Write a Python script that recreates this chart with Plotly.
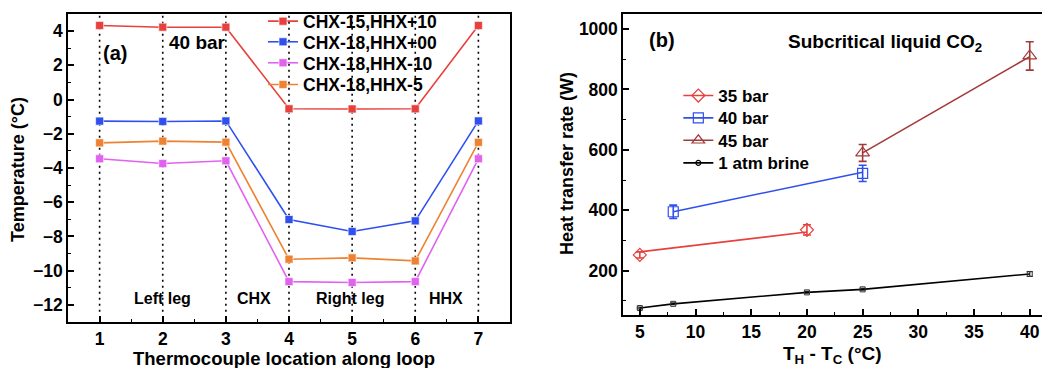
import plotly.graph_objects as go

# ---------- Panel (a) data ----------
locations = [1, 2, 3, 4, 5, 6, 7]
series_a_names = ["CHX-15,HHX+10", "CHX-18,HHX+00", "CHX-18,HHX-10", "CHX-18,HHX-5"]
chx15_hhx10 = [4.33, 4.23, 4.23, -0.54, -0.55, -0.54, 4.33]
chx18_hhx00 = [-1.26, -1.28, -1.25, -7.01, -7.71, -7.09, -1.25]
chx18_hhx_10 = [-3.46, -3.74, -3.58, -10.64, -10.69, -10.64, -3.46]
chx18_hhx_5 = [-2.53, -2.43, -2.49, -9.33, -9.25, -9.43, -2.50]
region_labels = ["Left leg", "CHX", "Right leg", "HHX"]
region_pos = [2.0, 3.45, 4.97, 6.48]

# ---------- Panel (b) data ----------
dT_35 = [5, 20]
q_35 = [252, 335]
err_35 = [10, 17]
fit_35 = [262, 328]

dT_40 = [8, 25]
q_40 = [395, 522]
err_40 = [22, 27]
fit_40 = [395, 526]

dT_45 = [25, 40]
q_45 = [590, 911]
err_45 = [28, 47]
fit_45 = [590, 909]

dT_brine = [5, 8, 20, 25, 40]
q_brine = [76, 90, 128, 138, 189]
err_brine = [3, 3, 3, 3, 8]

FONT = "Liberation Sans, Arial, sans-serif"
c_red = "#e8403c"
c_blue = "#2f50ee"
c_mag = "#e262f0"
c_org = "#ee8232"
c_dred = "#a33a3a"

fig = go.Figure()

# dotted guide lines at each thermocouple location
for xl in locations:
    fig.add_trace(go.Scatter(x=[xl, xl], y=[-12.4, 5], mode="lines",
                             line=dict(color="black", width=1.6, dash="2px,4px"),
                             showlegend=False, hoverinfo="skip", xaxis="x", yaxis="y"))

left_leg_y = [0.9763, 0.9094, 0.8412, 0.7708]
for i, (name, vals, col) in enumerate(zip(series_a_names,
                                          [chx15_hhx10, chx18_hhx00, chx18_hhx_10, chx18_hhx_5],
                                          [c_red, c_blue, c_mag, c_org])):
    fig.add_trace(go.Scatter(x=locations, y=vals, name=name, mode="lines+markers",
                             line=dict(color=col, width=1.6),
                             marker=dict(symbol="square", size=8, color=col,
                                         line=dict(color="rgba(255,255,255,0.6)", width=1)),
                             xaxis="x", yaxis="y", legend="legend" if i == 0 else f"legend{i+1}"))

# Panel (b): fit lines
for xs, fit, col in [(dT_35, fit_35, c_red), (dT_40, fit_40, c_blue), (dT_45, fit_45, c_dred)]:
    fig.add_trace(go.Scatter(x=xs, y=fit, mode="lines", line=dict(color=col, width=1.6),
                             showlegend=False, xaxis="x2", yaxis="y2"))

# Panel (b): data markers with error bars
for xs, ys, es, col, sym, sz in [(dT_35, q_35, err_35, c_red, "diamond-open", 10),
                                 (dT_40, q_40, err_40, c_blue, "square-open", 10),
                                 (dT_45, q_45, err_45, c_dred, "triangle-up-open", 12)]:
    fig.add_trace(go.Scatter(x=xs, y=ys, mode="markers",
                             marker=dict(symbol=sym, size=sz, color=col, line=dict(width=1.2)),
                             error_y=dict(type="data", array=es, color=col, thickness=1.6, width=4),
                             showlegend=False, xaxis="x2", yaxis="y2"))

fig.add_trace(go.Scatter(x=dT_brine, y=q_brine, mode="lines+markers",
                         line=dict(color="black", width=1.6),
                         marker=dict(symbol="square-open", size=5, color="#333", line=dict(width=1)),
                         error_y=dict(type="data", array=err_brine, color="#333", thickness=1.2, width=3),
                         showlegend=False, xaxis="x2", yaxis="y2"))

# legend-only entries for panel (b)
right_leg_y = [0.7338, 0.6614, 0.5886, 0.5153]
for i, (name, col, sym, sz) in enumerate([("35 bar", c_red, "diamond-open", 10),
                                          ("40 bar", c_blue, "square-open", 10),
                                          ("45 bar", c_dred, "triangle-up-open", 11),
                                          ("1 atm brine", "black", "circle-open", 5)]):
    fig.add_trace(go.Scatter(x=[None], y=[None], name=name, mode="lines+markers",
                             line=dict(color=col, width=1.6),
                             marker=dict(symbol=sym, size=sz, color=col, line=dict(width=1.2)),
                             xaxis="x2", yaxis="y2", legend=f"legend{i+5}"))

axis_common = dict(showline=True, linecolor="black", linewidth=1.6, mirror=True,
                   ticks="inside", ticklen=6, tickwidth=1.5, tickcolor="black",
                   showgrid=False, zeroline=False, automargin=False,
                   tickfont=dict(family=FONT, size=17.5, color="black", weight="bold"))

fig.update_layout(
    width=1042, height=368,
    margin=dict(l=0, r=0, t=14, b=46),
    paper_bgcolor="white", plot_bgcolor="white",
    font=dict(family=FONT, color="black", weight="bold"),
    xaxis=dict(domain=[0.0653, 0.4894], range=[0.5, 7.5], tickvals=locations,
               minor=dict(ticks="inside", ticklen=3, tickwidth=1.2, tickcolor="black", dtick=0.5),
               anchor="y", **axis_common),
    yaxis=dict(domain=[0, 1], range=[-13, 5], dtick=2, tick0=0,
               minor=dict(ticks="inside", ticklen=3, tickwidth=1.2, tickcolor="black", dtick=1),
               anchor="x", **axis_common),
    xaxis2=dict(domain=[0.598, 1.0], range=[3.5, 41.1], dtick=5, tick0=0,
                minor=dict(ticks="inside", ticklen=3, tickwidth=1.2, tickcolor="black", dtick=2.5),
                anchor="y2", **axis_common),
    yaxis2=dict(domain=[0.0227, 1], range=[53, 1050], tickvals=[200, 400, 600, 800, 1000],
                minor=dict(ticks="inside", ticklen=3, tickwidth=1.2, tickcolor="black",
                           tickvals=[100, 300, 500, 700, 900]),
                anchor="x2", **{**axis_common, "mirror": False}),
)

leg_font = dict(family=FONT, size=17.5, color="black", weight="bold")
for i, yy in enumerate(left_leg_y):
    key = "legend" if i == 0 else f"legend{i+1}"
    fig.update_layout({key: dict(x=0.2524, y=yy, xanchor="left", yanchor="middle",
                                 bgcolor="rgba(0,0,0,0)", font=leg_font, itemwidth=30)})
for i, yy in enumerate(right_leg_y):
    fig.update_layout({f"legend{i+5}": dict(x=0.651, y=yy, xanchor="left", yanchor="middle",
                                            bgcolor="rgba(0,0,0,0)",
                                            font=dict(leg_font, size=17), itemwidth=30)})

# axis titles (positioned as annotations in paper coordinates)
title_font = dict(family=FONT, size=18, color="black", weight="bold")
common_anchor = dict(xref="paper", yref="paper", xanchor="center", yanchor="middle", showarrow=False)
fig.add_annotation(x=284 / 1042, y=(322 - 358) / 308, text="Thermocouple location along loop",
                   font=dict(title_font, size=18.5), **common_anchor)
fig.add_annotation(x=18 / 1042, y=(322 - 170) / 308, text="Temperature (°C)", textangle=-90,
                   font=title_font, **common_anchor)
fig.add_annotation(x=832 / 1042, y=(322 - 355) / 308, text="T<sub>H</sub> - T<sub>C</sub> (°C)",
                   font=dict(title_font, size=19), **common_anchor)
fig.add_annotation(x=567 / 1042, y=(322 - 164) / 308, text="Heat transfer rate (W)", textangle=-90,
                   font=title_font, **common_anchor)

ann_font = dict(family=FONT, size=20, color="black", weight="bold")
fig.add_annotation(x=1.25, y=2.75, xref="x", yref="y", text="(a)", showarrow=False, font=ann_font)
fig.add_annotation(x=2.55, y=3.35, xref="x", yref="y", text="40 bar", showarrow=False,
                   font=dict(ann_font, size=19))
for lbl, px in zip(region_labels, region_pos):
    fig.add_annotation(x=px, y=-11.6, xref="x", yref="y", text=lbl, showarrow=False,
                       font=dict(ann_font, size=16))
fig.add_annotation(x=6.95, y=964, xref="x2", yref="y2", text="(b)", showarrow=False, font=ann_font)
fig.add_annotation(x=27, y=955, xref="x2", yref="y2", text="Subcritical liquid CO<sub>2</sub>",
                   showarrow=False, font=dict(ann_font, size=19))

fig.write_html("out.html", config={"displayModeBar": False},
               post_script="document.body.style.margin='0';")
